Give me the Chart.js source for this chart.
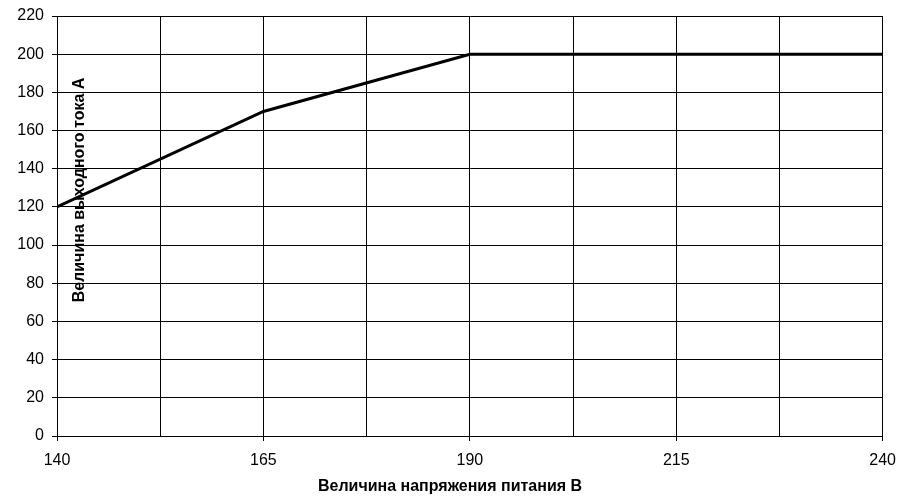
<!DOCTYPE html>
<html>
<head>
<meta charset="utf-8">
<script src="https://cdn.jsdelivr.net/npm/chart.js@4"></script>
<style>
  body { margin: 0; background: #fff; }
  #wrap { width: 906px; height: 498px; }
</style>
</head>
<body>
<div id="wrap"><canvas id="chart"></canvas></div>
<script>
// данные
const voltage = [140, 165, 190, 240];   // В
const current = [120, 170, 200, 200];   // А
const xTitle = 'Величина напряжения питания В';
const yTitle = 'Величина выходного тока А';

const FONT = '"Liberation Sans", Arial, sans-serif';
const isMajor = v => (v - 140) % 25 === 0;

// подписи осей рисуются вручную, как в исходнике (Y - прямо на поле графика)
const titlesPlugin = {
    id: 'titles',
    afterDraw(chart) {
        const c = chart.ctx;
        c.save();
        c.fillStyle = '#000';
        c.textAlign = 'center';
        c.textBaseline = 'middle';
        c.font = 'bold 16px ' + FONT;
        c.fillText(xTitle, 450, 487);
        c.translate(80, 190);
        c.rotate(-Math.PI / 2);
        c.fillText(yTitle, 0, 0, 226);
        c.restore();
    }
};

new Chart(document.getElementById('chart'), {
    type: 'line',
    data: {
        datasets: [{
            data: voltage.map((v, i) => ({ x: v, y: current[i] })),
            borderColor: '#000',
            borderWidth: 3,
            pointRadius: 0,
            tension: 0
        }]
    },
    options: {
        responsive: true,
        maintainAspectRatio: false,
        animation: false,
        layout: { padding: { top: 14, right: 23, left: 0, bottom: 0 } },
        plugins: {
            legend: { display: false },
            tooltip: { enabled: false }
        },
        scales: {
            x: {
                type: 'linear',
                min: 140,
                max: 240,
                border: { color: '#000', width: 1 },
                grid: {
                    color: '#000',
                    lineWidth: 1,
                    tickLength: 5,
                    tickColor: ctx => (ctx.tick && isMajor(ctx.tick.value)) ? '#000' : 'rgba(0,0,0,0)'
                },
                ticks: {
                    stepSize: 12.5,
                    autoSkip: false,
                    maxRotation: 0,
                    color: '#000',
                    font: { family: FONT, size: 16 },
                    padding: 10,
                    callback: v => isMajor(v) ? v : ''
                },
                afterFit: s => { s.height = 62; }
            },
            y: {
                min: 0,
                max: 220,
                border: { color: '#000', width: 1 },
                grid: { color: '#000', lineWidth: 1, tickLength: 5, tickColor: '#000' },
                ticks: {
                    stepSize: 20,
                    color: '#000',
                    font: { family: FONT, size: 16, lineHeight: 1 },
                    padding: 8
                },
                afterFit: s => { s.width = 57; }
            }
        }
    },
    plugins: [titlesPlugin]
});
</script>
</body>
</html>
